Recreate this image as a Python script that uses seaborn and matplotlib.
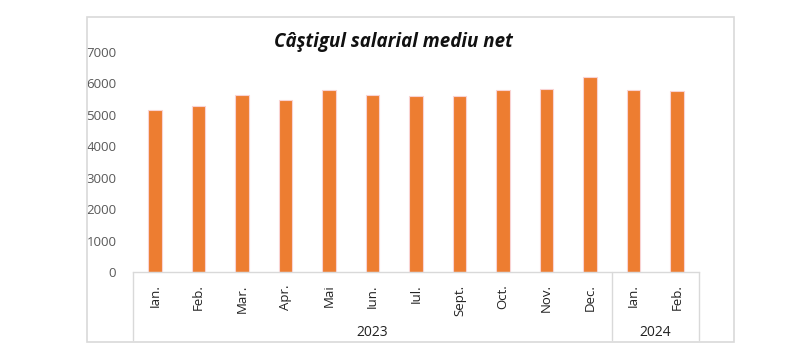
import pandas as pd
import matplotlib.pyplot as plt
import seaborn as sns
from matplotlib.patches import Rectangle
from matplotlib.transforms import blended_transform_factory

# values (lei)
months = ["Ian.", "Feb.", "Mar.", "Apr.", "Mai", "Iun.", "Iul.", "Sept.", "Oct.", "Nov.", "Dec.", "Ian.", "Feb."]
years = ["2023"] * 11 + ["2024"] * 2
salary = [5160, 5280, 5630, 5480, 5780, 5630, 5610, 5600, 5800, 5830, 6200, 5780, 5760]

df = pd.DataFrame({"luna": months, "an": years, "castig": salary})
df["key"] = df["luna"] + " " + df["an"]

sns.set_style("white")
plt.rcParams["font.family"] = ["Open Sans", "DejaVu Sans"]

fig = plt.figure(figsize=(8, 3.57), dpi=100)
ax = fig.add_axes([133 / 800, 1 - 272 / 357, (699 - 133) / 800, (272 - 52) / 357])

sns.barplot(data=df, x="key", y="castig", color="#ED7D31", width=0.31,
            edgecolor="#f9d3d3", linewidth=0.8, saturation=1, ax=ax)

ax.set_ylim(0, 7000)
ax.set_xlim(-0.5, len(df) - 0.5)
ax.set_yticks(range(0, 7001, 1000))
ax.set_xticks(range(len(df)))
ax.set_xticklabels(df["luna"], rotation=90)
ax.tick_params(axis="x", length=0, pad=9, labelsize=9.5, labelcolor="#222222")
ax.tick_params(axis="y", length=0, pad=12, labelsize=9.5, labelcolor="#595959")
ax.set_xlabel("")
ax.set_ylabel("")
for s in ["top", "right", "left"]:
    ax.spines[s].set_visible(False)
ax.spines["bottom"].set_color("#d9d9d9")
ax.spines["bottom"].set_linewidth(1)

# year grouping under the month labels
tr = blended_transform_factory(ax.transData, ax.transAxes)
low = -68 / 220
for xv in [-0.5, 10.5, 12.5]:
    ax.plot([xv, xv], [0, low], transform=tr, color="#d9d9d9", lw=1, clip_on=False)
for label, grp in df.groupby("an"):
    center = (grp.index.min() + grp.index.max()) / 2
    ax.text(center, -60 / 220, label, transform=tr, ha="center", va="center",
            fontsize=10, color="#222222")

fig.text(393 / 800, 1 - 42 / 357, "Câştigul salarial mediu net", ha="center", va="center",
         fontsize=13.5, fontweight="bold", fontstyle="italic", color="#111111")

# chart area border
fig.patches.append(Rectangle((87 / 800, 1 - 342 / 357), (734 - 87) / 800, (342 - 17) / 357,
                             transform=fig.transFigure, fill=False,
                             edgecolor="#d9d9d9", linewidth=1.2))

fig.savefig("out.png", dpi=100)
